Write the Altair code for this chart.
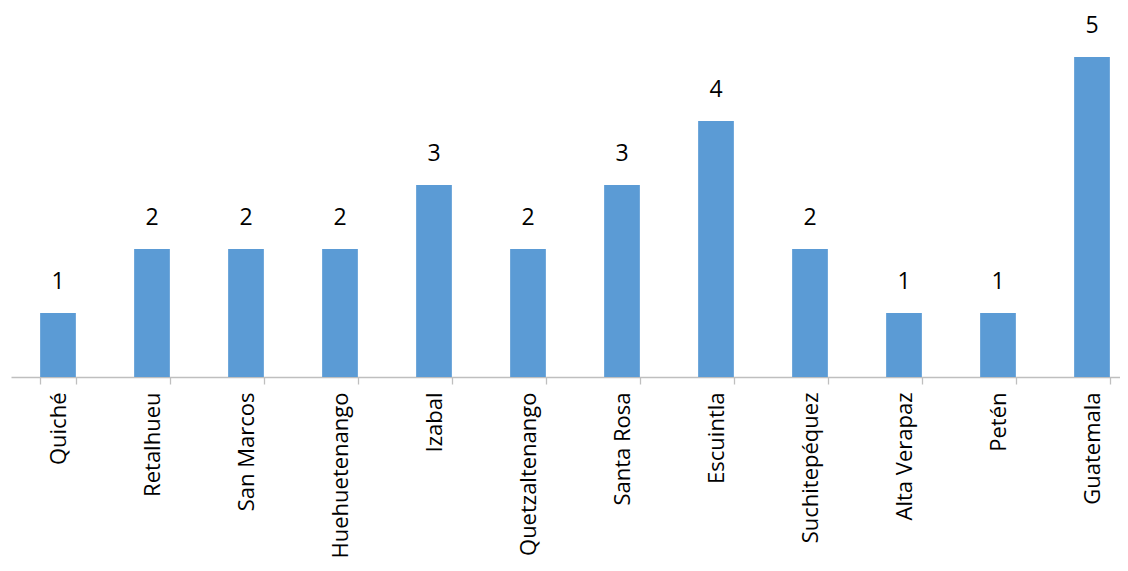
import altair as alt
import pandas as pd

departments = ["Quiché", "Retalhueu", "San Marcos", "Huehuetenango", "Izabal",
               "Quetzaltenango", "Santa Rosa", "Escuintla", "Suchitepéquez",
               "Alta Verapaz", "Petén", "Guatemala"]
counts = [1, 2, 2, 2, 3, 2, 3, 4, 2, 1, 1, 5]

df = pd.DataFrame({"dep": departments, "n": counts})

x = alt.X("dep:N", sort=departments, title=None,
          scale=alt.Scale(range=[0, 1128], paddingInner=0.62, paddingOuter=0.31),
          axis=alt.Axis(labelAngle=-90, labelFont="Open Sans", labelFontSize=22,
                        labelColor="#000000", labelPadding=8, tickBand="extent",
                        tickSize=7, tickColor="#BFBFBF", domainColor="#BFBFBF",
                        domainWidth=1.3, tickWidth=1.3, labelAlign="right",
                        labelBaseline="middle", labelOverlap=False))
y = alt.Y("n:Q", title=None, scale=alt.Scale(domain=[0, 5.766], nice=False, zero=True),
          axis=None)

bars = alt.Chart(df).mark_bar(color="#5B9BD5").encode(x=x, y=y)
labels = alt.Chart(df).mark_text(font="Open Sans", fontSize=23, color="#000000",
                                 dy=-24, baseline="alphabetic").encode(
    x=alt.X("dep:N", sort=departments), y="n:Q", text="n:Q")

chart = alt.layer(bars, labels).properties(
    width=1109, height=369,
    autosize=alt.AutoSizeParams(type="none"),
    padding={"left": 3, "top": 0, "right": 0, "bottom": 186}
).configure_view(stroke=None)

chart.save("out.html", embed_options={"renderer": "svg", "actions": False})
